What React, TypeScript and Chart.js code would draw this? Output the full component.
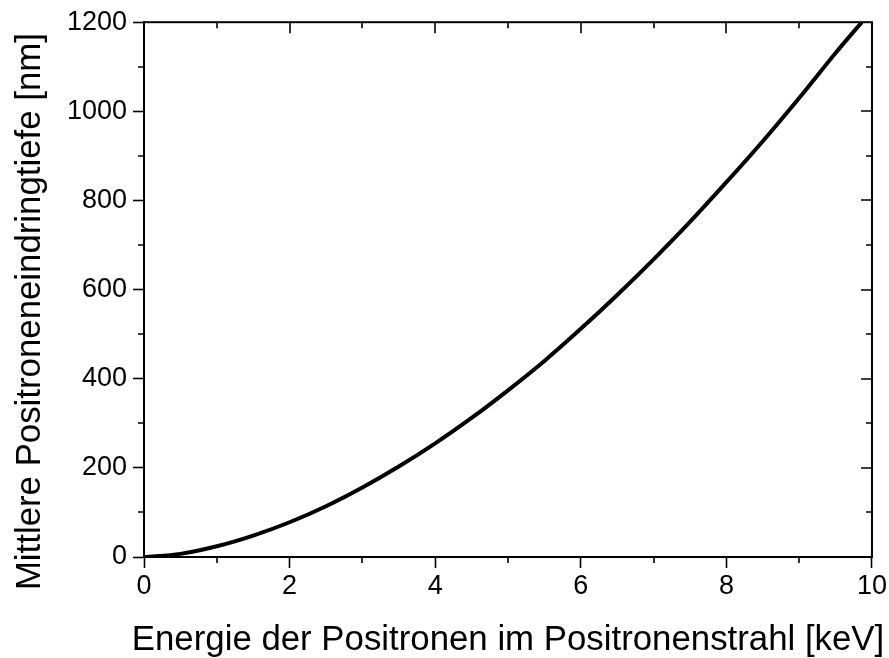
import React, { useEffect, useRef } from "react";
import { Chart, registerables } from "chart.js";

Chart.register(...registerables);

// Energy of positrons [keV]
const energyKeV = [0, 0.5, 1, 1.5, 2, 2.5, 3, 3.5, 4, 4.5, 5, 5.5, 6, 6.5, 7, 7.5, 8, 8.5, 9, 9.5, 9.86];
// Mean positron implantation depth [nm]
const depthNm = [0, 7, 24, 48, 78, 114, 156, 203, 255, 312, 374, 440, 512, 588, 668, 752, 841, 933, 1030, 1131, 1200];

const xTickValues = [0, 2, 4, 6, 8, 10];
const yTickValues = [0, 200, 400, 600, 800, 1000, 1200];
const xMinorStep = 1;
const yMinorStep = 100;

const xTitle = "Energie der Positronen im Positronenstrahl [keV]";
const yTitle = "Mittlere Positroneneindringtiefe [nm]";

const FONT = "'Liberation Sans', Arial, Helvetica, sans-serif";
const TITLE_FONT = `34.8px ${FONT}`;

const framePlugin = {
  id: "frame",
  afterDraw(chart: any) {
    const { ctx, chartArea } = chart;
    const { left, right, top, bottom } = chartArea;
    const xs = chart.scales.x;
    const ys = chart.scales.y;
    ctx.save();
    ctx.strokeStyle = "#000";
    ctx.lineWidth = 2;
    ctx.strokeRect(left, top, right - left, bottom - top);
    ctx.lineWidth = 1.6;
    ctx.beginPath();
    const xMin = xTickValues[0];
    const xMax = xTickValues[xTickValues.length - 1];
    for (let v = xMin; v <= xMax + 1e-9; v += xMinorStep) {
      const px = Math.round(xs.getPixelForValue(v));
      const major = xTickValues.includes(v);
      if (!major) {
        ctx.moveTo(px, bottom);
        ctx.lineTo(px, bottom + 6);
      }
      if (v !== xMin && v !== xMax) {
        ctx.moveTo(px, top);
        ctx.lineTo(px, top + (major ? 11 : 6));
      }
    }
    const yMin = yTickValues[0];
    const yMax = yTickValues[yTickValues.length - 1];
    for (let v = yMin; v <= yMax + 1e-9; v += yMinorStep) {
      const py = Math.round(ys.getPixelForValue(v));
      const major = yTickValues.includes(v);
      if (!major) {
        ctx.moveTo(left, py);
        ctx.lineTo(left - 6, py);
      }
      if (v !== yMin && v !== yMax) {
        ctx.moveTo(right, py);
        ctx.lineTo(right - (major ? 11 : 6), py);
      }
    }
    ctx.stroke();

    // axis titles (drawn at full width, not squeezed into the scale box)
    ctx.fillStyle = "#000";
    ctx.font = TITLE_FONT;
    ctx.textAlign = "center";
    ctx.textBaseline = "alphabetic";
    ctx.fillText(xTitle, (left + right) / 2, 650);
    ctx.save();
    ctx.translate(40, (top + bottom) / 2 + 22);
    ctx.rotate(-Math.PI / 2);
    ctx.fillText(yTitle, 0, 0);
    ctx.restore();
    ctx.restore();
  },
};

export default function App() {
  const canvasRef = useRef<HTMLCanvasElement | null>(null);

  useEffect(() => {
    const canvas = canvasRef.current;
    if (!canvas) return;
    const points = energyKeV.map((e, i) => ({ x: e, y: depthNm[i] }));
    const chart = new Chart(canvas, {
      type: "line",
      data: {
        datasets: [
          {
            data: points,
            borderColor: "#000",
            borderWidth: 4,
            pointRadius: 0,
            fill: false,
            cubicInterpolationMode: "monotone",
          },
        ],
      },
      options: {
        responsive: false,
        animation: false,
        devicePixelRatio: 1,
        layout: { padding: { top: 19, right: 17, left: 0, bottom: 0 } },
        plugins: {
          legend: { display: false },
          tooltip: { enabled: false },
        },
        scales: {
          x: {
            type: "linear",
            min: 0,
            max: 10,
            afterBuildTicks: (scale: any) => {
              scale.ticks = xTickValues.map((v) => ({ value: v }));
            },
            afterFit: (scale: any) => {
              scale.height = 101;
            },
            ticks: {
              color: "#000",
              font: { family: FONT, size: 27 },
              padding: 2,
              maxRotation: 0,
              autoSkip: false,
              callback: (v: any) => String(v),
            },
            grid: {
              display: true,
              drawOnChartArea: false,
              drawTicks: true,
              tickLength: 11,
              tickColor: "#000",
              tickWidth: 1.6,
            },
            border: { display: true, color: "#000", width: 2 },
            title: { display: false, text: xTitle },
          },
          y: {
            type: "linear",
            min: 0,
            max: 1200,
            afterBuildTicks: (scale: any) => {
              scale.ticks = yTickValues.map((v) => ({ value: v }));
            },
            afterFit: (scale: any) => {
              scale.width = 144;
            },
            ticks: {
              color: "#000",
              font: { family: FONT, size: 27 },
              padding: 6,
              autoSkip: false,
              callback: (v: any) => String(v),
            },
            grid: {
              display: true,
              drawOnChartArea: false,
              drawTicks: true,
              tickLength: 11,
              tickColor: "#000",
              tickWidth: 1.6,
            },
            border: { display: true, color: "#000", width: 2 },
            title: { display: false, text: yTitle },
          },
        },
      },
      plugins: [framePlugin],
    } as any);
    return () => chart.destroy();
  }, []);

  return (
    <div style={{ position: "absolute", left: 0, top: 0, width: 889, height: 658, background: "#fff" }}>
      <canvas ref={canvasRef} width={889} height={658} style={{ display: "block" }} />
    </div>
  );
}
